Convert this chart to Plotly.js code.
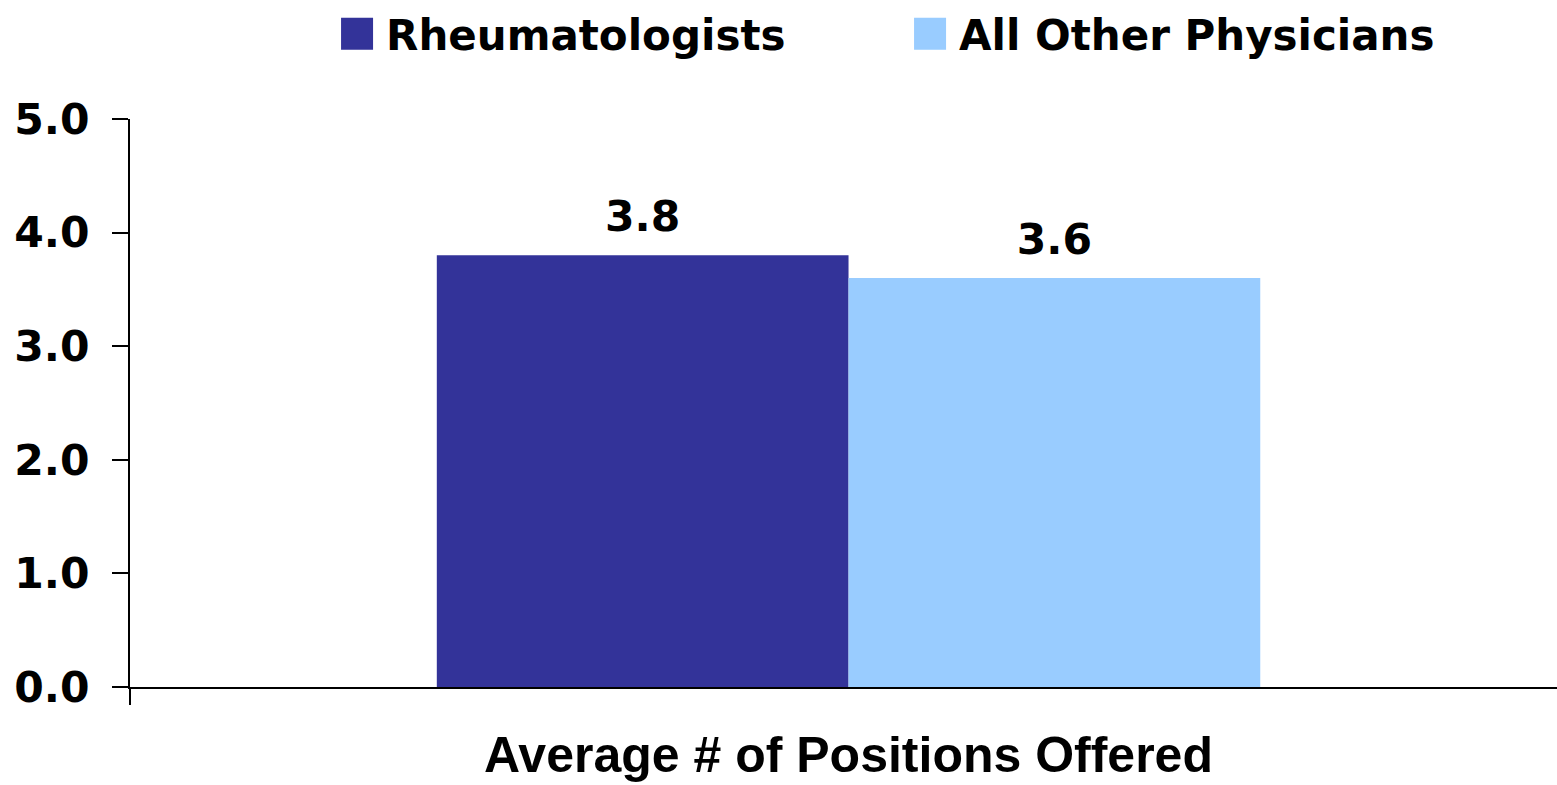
<!DOCTYPE html>
<html>
<head>
<meta charset="utf-8">
<script src="https://cdn.plot.ly/plotly-3.0.1.min.js"></script>
<style>
  html, body { margin: 0; padding: 0; background: #ffffff; }
  #chart { width: 1557px; height: 785px; }
</style>
</head>
<body>
<div id="chart"></div>
<script>
// ---- data ----
const categories = ["Average # of Positions Offered"];
const seriesNames = ["Rheumatologists", "All Other Physicians"];
const rheumValues = [3.8];
const otherValues = [3.6];
const yTickValues = [0, 1, 2, 3, 4, 5];
const yTickLabels = ["0.0", "1.0", "2.0", "3.0", "4.0", "5.0"];

// ---- styles ----
const colors = ["#333399", "#99CCFF"];
const tickFont = { family: "DejaVu Sans, Verdana, sans-serif", size: 42.5, color: "#000000", weight: 700 };
const legendFont = { family: "DejaVu Sans, Verdana, sans-serif", size: 42, color: "#000000", weight: 700 };
const catFont = { family: "Liberation Sans, Arial, sans-serif", size: 50, color: "#000000", weight: 700 };

function barTrace(values, idx) {
  return {
    type: "bar",
    x: categories,
    y: values,
    name: seriesNames[idx],
    offsetgroup: "g" + idx,
    marker: { color: colors[idx], line: { width: 0 } },
    hoverinfo: "name+y"
  };
}
function labelTrace(values, idx) {
  return {
    type: "scatter",
    mode: "markers+text",
    x: categories,
    y: values,
    offsetgroup: "g" + idx,
    text: values.map(v => v.toFixed(1)),
    textposition: "top center",
    textfont: tickFont,
    marker: { size: 20, opacity: 0 },
    showlegend: false,
    hoverinfo: "skip",
    cliponaxis: false
  };
}

const data = [
  barTrace(rheumValues, 0),
  barTrace(otherValues, 1),
  labelTrace(rheumValues, 0),
  labelTrace(otherValues, 1)
];

const layout = {
  width: 1557,
  height: 785,
  paper_bgcolor: "#ffffff",
  plot_bgcolor: "#ffffff",
  margin: { l: 130, r: 0, t: 119, b: 98, pad: 0 },
  barmode: "group",
  bargap: 0.427,
  bargroupgap: 0,
  scattermode: "group",
  scattergap: 0.427,
  showlegend: true,
  legend: {
    orientation: "h",
    xref: "container",
    yref: "container",
    x: 0.2107,
    xanchor: "left",
    y: 1,
    yanchor: "top",
    font: legendFont,
    itemwidth: 48,
    entrywidth: 510,
    entrywidthmode: "pixels",
    bgcolor: "rgba(0,0,0,0)",
    borderwidth: 0,
    traceorder: "normal"
  },
  xaxis: {
    type: "category",
    range: [-0.5, 0.493],
    showline: true,
    linecolor: "#000000",
    linewidth: 2,
    ticks: "outside",
    tickson: "boundaries",
    ticklen: 16,
    tickwidth: 2,
    tickcolor: "#000000",
    tickfont: catFont,
    ticklabelstandoff: 23,
    showgrid: false,
    zeroline: false,
    fixedrange: true
  },
  yaxis: {
    range: [0, 5],
    tickmode: "array",
    tickvals: yTickValues,
    ticktext: yTickLabels,
    ticks: "outside",
    ticklen: 16,
    tickwidth: 2,
    tickcolor: "#000000",
    showline: true,
    linecolor: "#000000",
    linewidth: 2,
    showgrid: false,
    zeroline: false,
    tickfont: tickFont,
    ticklabelstandoff: 14,
    fixedrange: true
  }
};

Plotly.newPlot("chart", data, layout, { displayModeBar: false, staticPlot: true }).then(function (gd) {
  // enlarge the legend swatches to match the reference's large squares
  gd.querySelectorAll(".legend .legendpoints path").forEach(function (p) {
    const t = p.getAttribute("transform") || "";
    p.setAttribute("transform", t + " scale(2.667)");
  });
});
</script>
</body>
</html>
